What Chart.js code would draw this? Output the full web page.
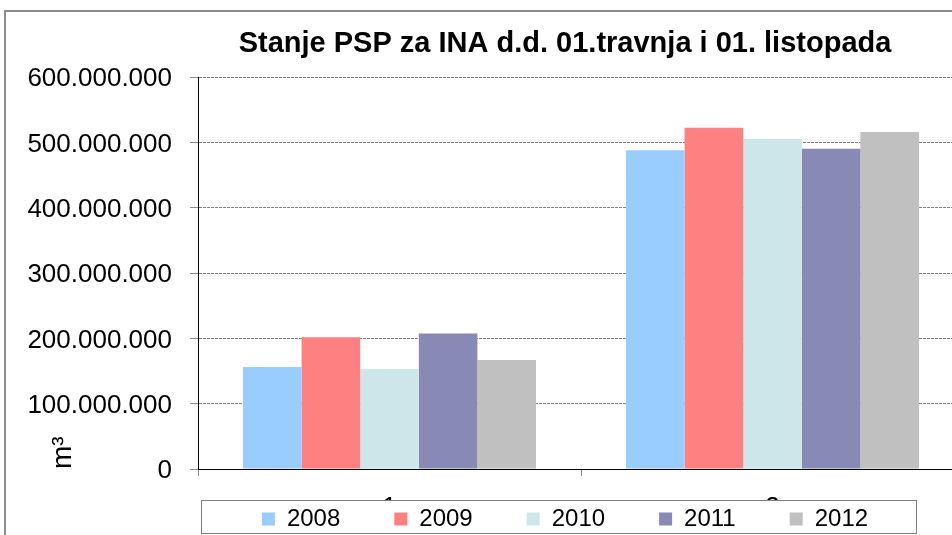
<!DOCTYPE html>
<html>
<head>
<meta charset="utf-8">
<script src="https://cdn.jsdelivr.net/npm/chart.js@4/dist/chart.umd.min.js"></script>
<style>
  html, body { margin: 0; padding: 0; background: #fff; overflow: hidden; width: 952px; height: 535px; }
  #frame { position: absolute; left: 4px; top: 10px; width: 1200px; height: 700px;
           border-left: 2px solid #8c8c8c; border-top: 2px solid #8c8c8c; box-sizing: border-box; }
  #c { position: absolute; left: 0; top: 0; }
</style>
</head>
<body>
<div id="frame"></div>
<canvas id="c" width="1130" height="535"></canvas>
<script>
// ---- data ----
const categories = ['1', '2'];
const seriesNames = ['2008', '2009', '2010', '2011', '2012'];
const values2008 = [156000000, 488000000];
const values2009 = [201500000, 522500000];
const values2010 = [153000000, 505000000];
const values2011 = [207500000, 490000000];
const values2012 = [167000000, 516000000];
const yTicksMax = 600000000;
const yTickStep = 100000000;
const titleText = 'Stanje PSP za INA d.d. 01.travnja i 01. listopada';
const yAxisTitle = 'm³';

const seriesValues = [values2008, values2009, values2010, values2011, values2012];
const seriesColors = ['#99CCFF', '#FF8080', '#CDE6EA', '#8989B6', '#C0C0C0'];

const FONT = "'Liberation Sans', Arial, sans-serif";

function fmt(v) {
  return String(v).replace(/\B(?=(\d{3})+(?!\d))/g, '.');
}

// draws a framed white box behind the legend and centres the items in it
const legendFrame = {
  id: 'legendFrame',
  afterInit(chart) {
    const lg = chart.legend;
    if (!lg || lg.__framed) return;
    const proto = Object.getPrototypeOf(lg);
    lg.draw = function () {
      const ctx = this.ctx;
      const hb = this.legendHitBoxes;
      if (!hb || !hb.length) { proto.draw.call(this); return; }
      const last = hb[hb.length - 1];
      const x0 = Math.round(hb[0].left - 61);
      const x1 = Math.round(last.left + last.width + 48);
      const top = Math.round(this.top);
      const h = Math.round(this.height);
      ctx.save();
      ctx.fillStyle = '#ffffff';
      ctx.fillRect(x0, top, x1 - x0, h);
      ctx.strokeStyle = '#808080';
      ctx.lineWidth = 1;
      ctx.strokeRect(x0 + 0.5, top + 0.5, x1 - x0, h - 1);
      ctx.restore();
      const pad = this.options.labels.padding;
      const fs = this.options.labels.font.size;
      const dy = (top + h / 2 + 2) - (this.top + pad + fs / 2);
      const savedTop = this.top;
      this.top = savedTop + dy;
      proto.draw.call(this);
      this.top = savedTop;
    };
    lg.__framed = true;
  }
};

const ctx = document.getElementById('c').getContext('2d');
new Chart(ctx, {
  type: 'bar',
  data: {
    labels: categories,
    datasets: seriesNames.map((name, i) => ({
      label: name,
      data: seriesValues[i],
      backgroundColor: seriesColors[i],
      borderWidth: 0,
      categoryPercentage: 0.765,
      barPercentage: 1.0
    }))
  },
  options: {
    responsive: false,
    animation: false,
    devicePixelRatio: 1,
    layout: { padding: { left: 0, right: 0, top: 0, bottom: 1 } },
    plugins: {
      title: {
        display: true,
        text: titleText,
        color: '#000',
        font: { family: FONT, size: 29, weight: 'bold' },
        padding: { top: 27, bottom: 15.2 }
      },
      legend: {
        display: true,
        position: 'bottom',
        maxHeight: 34,
        labels: {
          color: '#000',
          font: { family: FONT, size: 24 },
          boxWidth: 13,
          boxHeight: 13,
          padding: 54
        }
      },
      tooltip: { enabled: false }
    },
    scales: {
      x: {
        type: 'category',
        grid: {
          display: true,
          offset: true,
          drawOnChartArea: false,
          drawTicks: true,
          tickLength: 7,
          tickColor: '#8c8c8c',
          color: '#8c8c8c'
        },
        border: { display: true, color: '#000', width: 1 },
        ticks: {
          z: -1,
          color: '#000',
          font: { family: FONT, size: 26 },
          padding: 16,
          maxRotation: 0,
          minRotation: 0
        },
        afterFit(scale) { scale.height = 31; }
      },
      y: {
        type: 'linear',
        position: 'left',
        min: 0,
        max: yTicksMax,
        grid: {
          display: true,
          color: '#808080',
          lineWidth: 1,
          drawTicks: true,
          tickLength: 8,
          tickColor: '#8c8c8c',
          tickBorderDash: []
        },
        border: { display: true, color: '#000', width: 1, dash: [3, 1] },
        ticks: {
          stepSize: yTickStep,
          color: '#000',
          font: { family: FONT, size: 26 },
          padding: 18,
          labelOffset: 2,
          callback: (v) => fmt(v)
        },
        title: {
          display: true,
          text: yAxisTitle,
          align: 'start',
          color: '#000',
          font: { family: FONT, size: 28 },
          padding: { top: 46, bottom: 0 }
        },
        afterFit(scale) { scale.width = 198; }
      },
      y2: {
        type: 'linear',
        position: 'right',
        display: true,
        grid: { display: false },
        border: { display: false },
        ticks: { display: false },
        afterFit(scale) { scale.width = 166; }
      }
    }
  },
  plugins: [legendFrame]
});
</script>
</body>
</html>
